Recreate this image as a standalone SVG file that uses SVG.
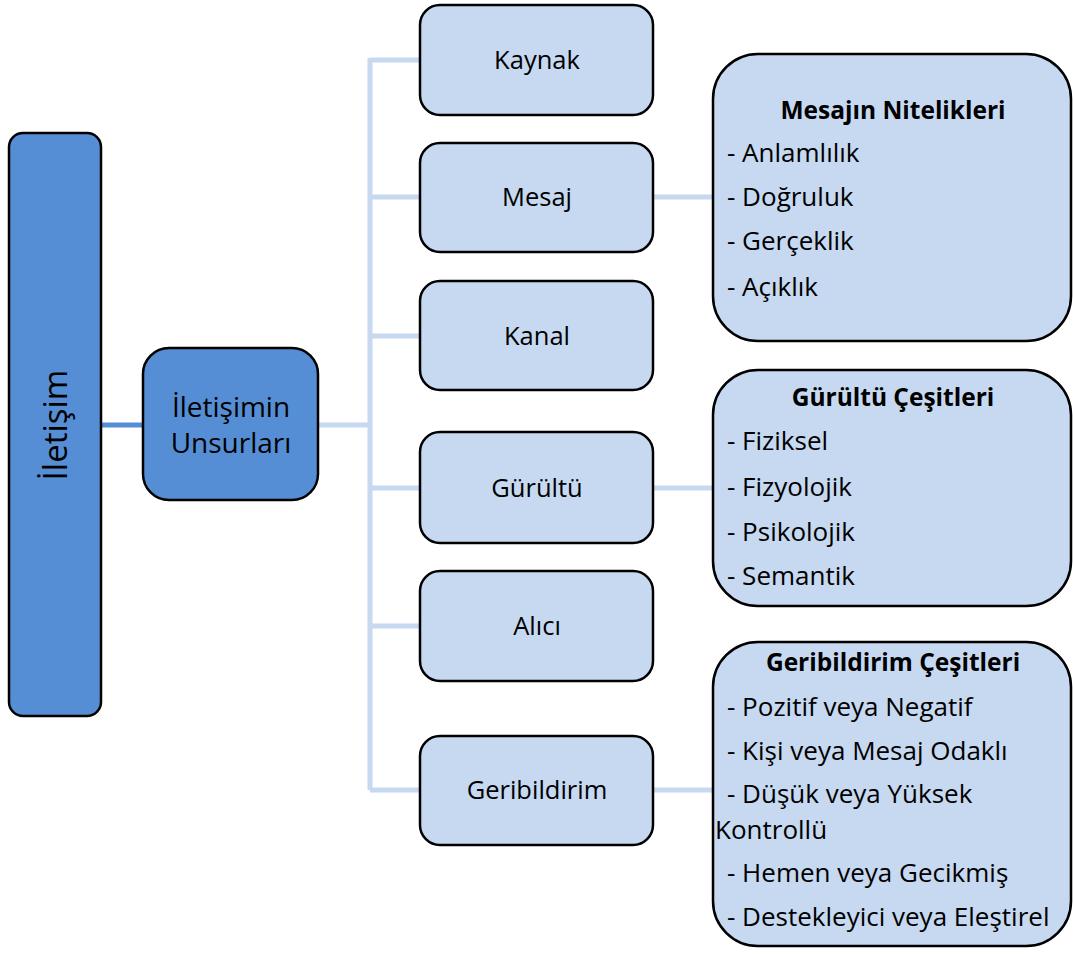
<svg xmlns="http://www.w3.org/2000/svg" width="1073" height="954" viewBox="0 0 1073 954">
<style>
.t{font-family:"Open Sans","Noto Sans","Liberation Sans",sans-serif;fill:#000;font-size:25.5px}
.i{font-size:26px}
.c{text-anchor:middle}
.b{font-weight:bold;font-size:24.5px}
.dark{fill:#558ED5;stroke:#000;stroke-width:2.5}
.light{fill:#C6D9F1;stroke:#000;stroke-width:2.5}
.ln{stroke:#C6D9F1;stroke-width:5;fill:none}
</style>
<rect width="1073" height="954" fill="#fff"/>
<g id="connectors">
<line x1="101" y1="425" x2="143" y2="425" stroke="#558ED5" stroke-width="5"/>
<path class="ln" d="M318 425H370M370 58V790M370 60H420M370 197H420M370 336H420M370 488H420M370 626H420M370 790H420M653 197H713M653 488H713M653 790H713"/>
</g>
<g id="n-iletisim">
<rect class="dark" x="9" y="133" width="92" height="583" rx="14"/>
<text class="t" style="font-size:33px" text-anchor="middle" transform="translate(67,425) rotate(-90)">İletişim</text>
</g>
<g id="n-unsurlar">
<rect class="dark" x="143" y="348" width="175" height="152" rx="26"/>
<text class="t c" style="font-size:28px"><tspan x="231" y="417">İletişimin</tspan><tspan x="231" y="453">Unsurları</tspan></text>
</g>
<g id="n-kaynak"><rect class="light" x="420" y="5" width="233" height="110" rx="20"/><text class="t c" x="537" y="69">Kaynak</text></g>
<g id="n-mesaj"><rect class="light" x="420" y="143" width="233" height="109" rx="20"/><text class="t c" x="537" y="206">Mesaj</text></g>
<g id="n-kanal"><rect class="light" x="420" y="281" width="233" height="109" rx="20"/><text class="t c" x="537" y="345">Kanal</text></g>
<g id="n-gurultu"><rect class="light" x="420" y="432" width="233" height="111" rx="20"/><text class="t c" x="537" y="497">Gürültü</text></g>
<g id="n-alici"><rect class="light" x="420" y="571" width="233" height="110" rx="20"/><text class="t c" x="537" y="635">Alıcı</text></g>
<g id="n-geribildirim"><rect class="light" x="420" y="736" width="233" height="109" rx="20"/><text class="t c" x="537" y="799">Geribildirim</text></g>
<g id="n-mesaj-nitelik">
<rect class="light" x="713" y="54" width="358" height="287" rx="45"/>
<text class="t c b" x="893" y="119">Mesajın Nitelikleri</text>
<text class="t i" x="727" y="162">- Anlamlılık</text>
<text class="t i" x="727" y="206">- Doğruluk</text>
<text class="t i" x="727" y="250">- Gerçeklik</text>
<text class="t i" x="727" y="296">- Açıklık</text>
</g>
<g id="n-gurultu-cesit">
<rect class="light" x="713" y="370" width="358" height="236" rx="45"/>
<text class="t c b" x="893" y="406">Gürültü Çeşitleri</text>
<text class="t i" x="727" y="450">- Fiziksel</text>
<text class="t i" x="727" y="496">- Fizyolojik</text>
<text class="t i" x="727" y="541">- Psikolojik</text>
<text class="t i" x="727" y="585">- Semantik</text>
</g>
<g id="n-geri-cesit">
<rect class="light" x="713" y="642" width="358" height="304" rx="45"/>
<text class="t c b" x="893" y="671">Geribildirim Çeşitleri</text>
<text class="t i" x="727" y="716">- Pozitif veya Negatif</text>
<text class="t i" x="727" y="760">- Kişi veya Mesaj Odaklı</text>
<text class="t i"><tspan x="727" y="803">- Düşük veya Yüksek</tspan><tspan x="715" y="839">Kontrollü</tspan></text>
<text class="t i" x="727" y="882">- Hemen veya Gecikmiş</text>
<text class="t i" x="727" y="926">- Destekleyici veya Eleştirel</text>
</g>
</svg>
